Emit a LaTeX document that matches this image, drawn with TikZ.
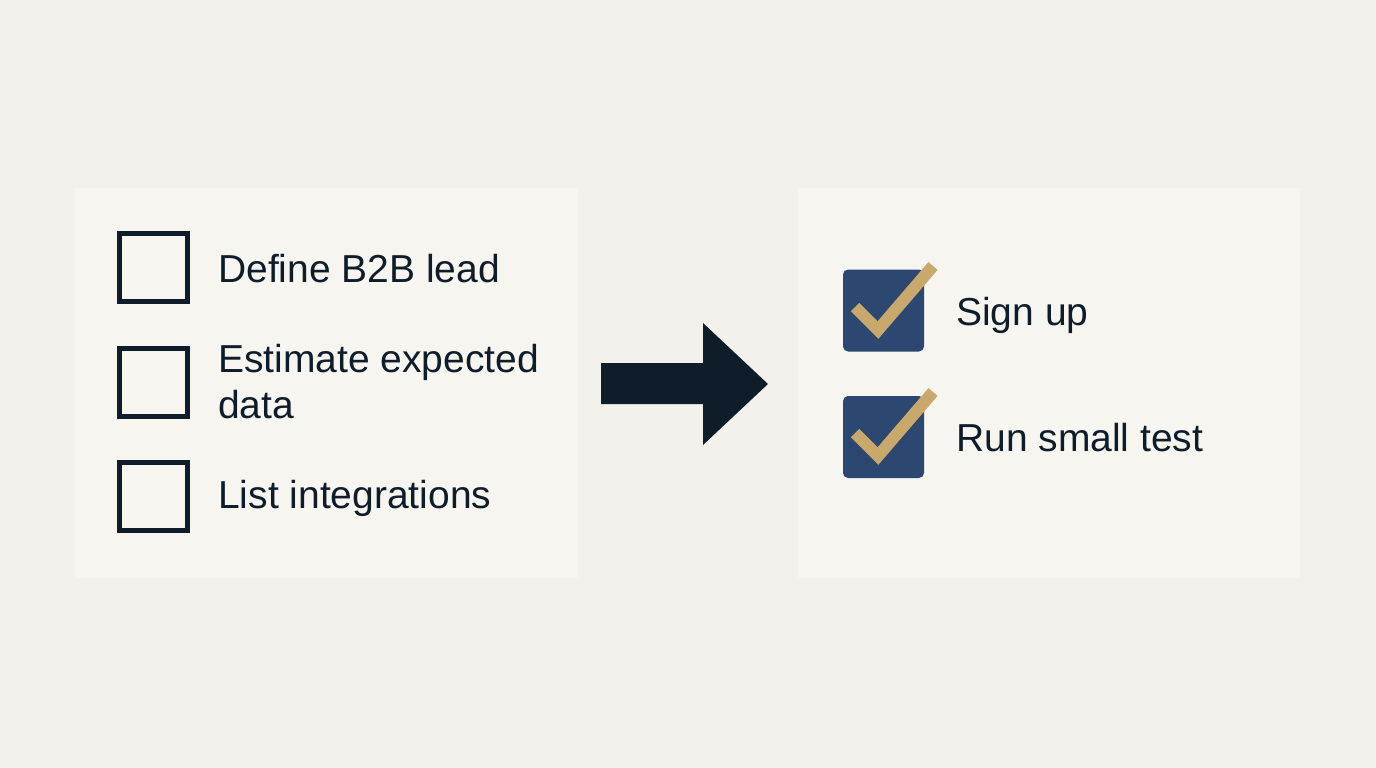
\documentclass[tikz,border=0pt]{standalone}
\usepackage{fontspec}
\setmainfont{Liberation Sans}
\definecolor{bgc}{HTML}{F3F1EB}
\definecolor{panelc}{HTML}{F6F5F0}
\definecolor{inkc}{HTML}{0F1D2B}
\definecolor{navyc}{HTML}{2C4770}
\definecolor{goldc}{HTML}{C8A96B}
\tikzset{
  panel/.style={fill=panelc, draw=none},
  openbox/.style={draw=inkc, line width=5pt, fill=none, minimum width=68pt, minimum height=68pt, inner sep=0pt},
  donebox/.style={fill=navyc, rounded corners=5pt, minimum width=81pt, minimum height=82pt, inner sep=0pt},
  tick/.style={draw=goldc, line width=12pt, line join=miter},
  label/.style={text=inkc, font=\fontsize{39}{46}\selectfont, inner sep=0pt, anchor=base west, align=left},
}
\begin{document}
\begin{tikzpicture}[x=1pt,y=-1pt]
\fill[bgc] (0,0) rectangle (1376,768);
\useasboundingbox (0,0) rectangle (1376,768);
\node[panel, minimum width=503pt, minimum height=390pt, anchor=north west] (lp) at (75,188) {};
\node[panel, minimum width=502pt, minimum height=390pt, anchor=north west] (rp) at (798,188) {};
% left column
\node[openbox] (b1) at (153.5,267.5) {};
\node[openbox] (b2) at (153.5,382) {};
\node[openbox] (b3) at (153.5,496) {};
\node[label] (t1) at (218,282) {Define B2B lead};
\node[label] (t2) at (218,418) {Estimate expected\\data};
\node[label] (t3) at (218,508) {List integrations};
% arrow
\fill[inkc] (601,363) -- (703,363) -- (703,323) -- (768,384) -- (703,445) -- (703,404) -- (601,404) -- cycle;
\coordinate (arrowtip) at (768,384);
% right column
\node[donebox] (c1) at (883.5,310.5) {};
\node[donebox] (c2) at (883.5,437) {};
\draw[tick] (855,307) -- (878,330) -- (933,266);
\draw[tick] (855,433) -- (878,456) -- (933,392);
\node[label] (s1) at (956,325) {Sign up};
\node[label] (s2) at (956,451) {Run small test};
\end{tikzpicture}
\end{document}
